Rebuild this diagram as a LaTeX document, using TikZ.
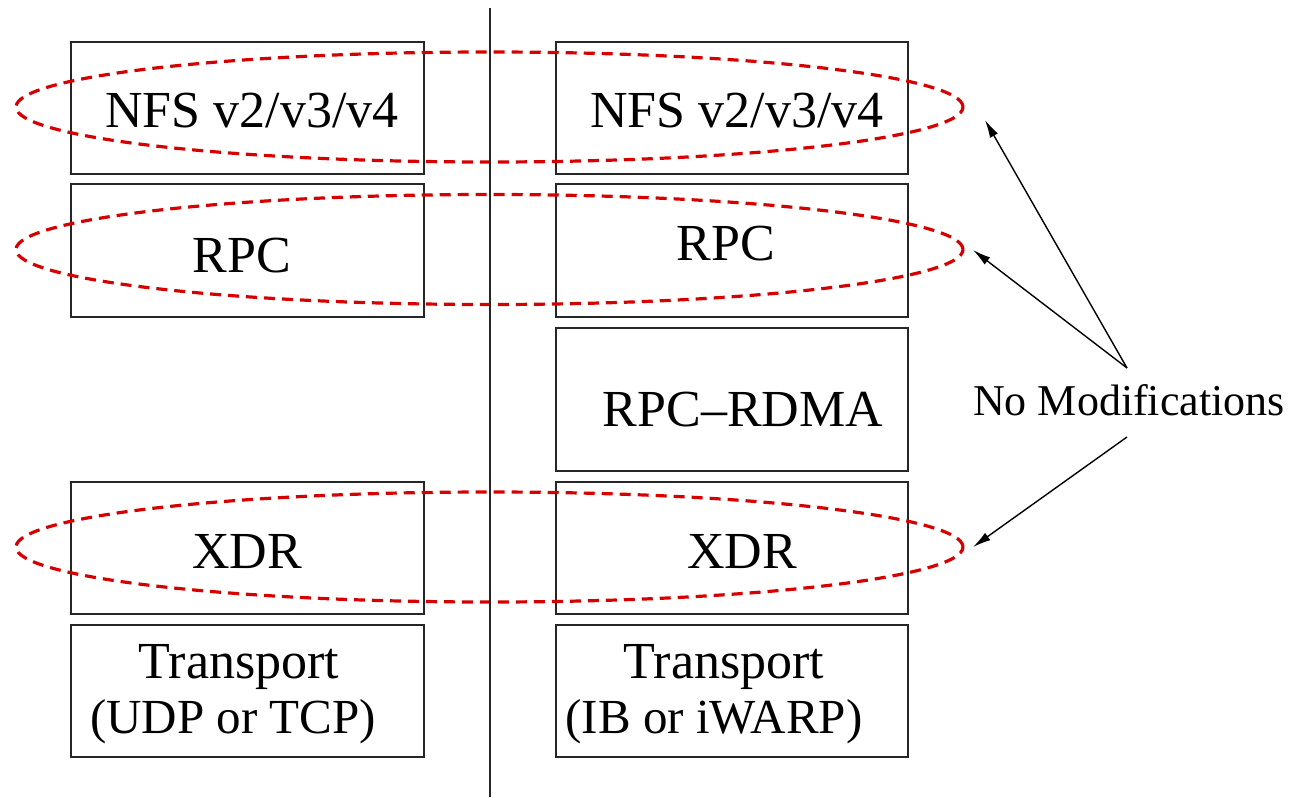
\documentclass[tikz,border=0pt]{standalone}
\usepackage{fontspec}
\setmainfont{Liberation Serif}
\usetikzlibrary{arrows.meta,shapes.geometric}
\definecolor{ringred}{RGB}{215,0,0}
\begin{document}
\begin{tikzpicture}[x=1pt,y=-1pt,
  layerbox/.style={draw=black!85, line width=2pt, inner sep=0pt},
  lbl/.style={font=\fontsize{52}{55}\selectfont, inner sep=0pt, anchor=base},
  ring/.style={draw=ringred, line width=3.2pt, dash pattern=on 11pt off 7pt,
               ellipse, minimum width=947pt, minimum height=110pt, inner sep=0pt},
  pointer/.style={-{Latex[length=18pt,width=9pt]}, line width=1.4pt}]
\useasboundingbox (0,0) rectangle (1289,797);

% left stack (UDP/TCP)
\node[layerbox, minimum width=353pt, minimum height=132pt] (lnfs) at (247.5,108) {};
\node[layerbox, minimum width=353pt, minimum height=133pt] (lrpc) at (247.5,250.5) {};
\node[layerbox, minimum width=353pt, minimum height=132pt] (lxdr) at (247.5,548) {};
\node[layerbox, minimum width=353pt, minimum height=132pt] (ltr)  at (247.5,691) {};

% right stack (RDMA)
\node[layerbox, minimum width=352pt, minimum height=132pt] (rnfs)  at (732,108) {};
\node[layerbox, minimum width=352pt, minimum height=133pt] (rrpc)  at (732,250.5) {};
\node[layerbox, minimum width=352pt, minimum height=143pt] (rrdma) at (732,399.5) {};
\node[layerbox, minimum width=352pt, minimum height=132pt] (rxdr)  at (732,548) {};
\node[layerbox, minimum width=352pt, minimum height=132pt] (rtr)   at (732,691) {};

% layer names
\node[lbl] (tlnfs) at (252,128) {NFS v2/v3/v4};
\node[lbl] (trnfs) at (737,128) {NFS v2/v3/v4};
\node[lbl] (tlrpc) at (242,272) {RPC};
\node[lbl] (trrpc) at (726,260) {RPC};
\node[lbl] (trdma) at (743,426) {RPC--RDMA};
\node[lbl] (tlxdr) at (247,568) {XDR};
\node[lbl] (trxdr) at (742,568) {XDR};
\node[lbl] (tltr1) at (239,678) {Transport};
\node[lbl, font=\fontsize{49}{52}\selectfont] (tltr2) at (233,733) {(UDP or TCP)};
\node[lbl] (trtr1) at (724,678) {Transport};
\node[lbl, font=\fontsize{49}{52}\selectfont] (trtr2) at (714,733) {(IB or iWARP)};

% unchanged layers ringed across both stacks
\node[ring] (nfsring) at (489.5,107) {};
\node[ring] (rpcring) at (489.5,249.5) {};
\node[ring] (xdrring) at (489.5,547) {};

% divider between the two stacks
\coordinate (divtop) at (490,8);
\coordinate (divbot) at (490,797);
\draw[line width=2pt, black!85] (divtop) -- (divbot);

% callout
\node[font=\fontsize{44}{46}\selectfont, inner sep=0pt, anchor=base] (nomod) at (1129,415) {No Modifications};
\coordinate (upfoot) at (1127,368);
\coordinate (lowfoot) at (1127,437);
\coordinate (nfstip) at (985,120);
\coordinate (rpctip) at (973,250);
\coordinate (xdrtip) at (973,547);
\draw[pointer] (upfoot) -- (nfstip);
\draw[pointer] (upfoot) -- (rpctip);
\draw[pointer] (lowfoot) -- (xdrtip);
\end{tikzpicture}
\end{document}
